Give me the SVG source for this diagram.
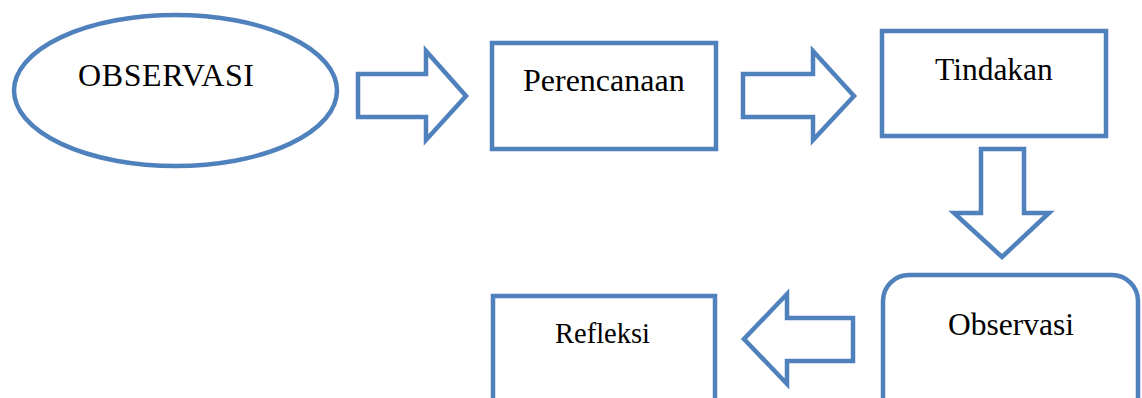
<svg xmlns="http://www.w3.org/2000/svg" width="1142" height="398" viewBox="0 0 1142 398">
<style>
.s{fill:#fff;stroke:#4F81BD;stroke-width:4.5;stroke-linejoin:miter}
.t{font-family:"Liberation Serif","Times New Roman",serif;fill:#000}
</style>
<rect width="1142" height="398" fill="#fff"/>
<g id="connectors">
<path class="s" d="M358,74 H426 V51 L466,96 L426,140 V117 H358 Z"/>
<path class="s" d="M743,74 H813 V51 L854,96 L813,140 V117 H743 Z"/>
<path class="s" d="M981,149 H1024 V213 H1049 L1002,257 L954,213 H981 Z"/>
<path class="s" d="M853,318 H787 V294 L744,339 L787,384 V361 H853 Z"/>
</g>
<g id="observasi-ellipse">
<ellipse class="s" cx="175.5" cy="90.5" rx="161.5" ry="75.5"/>
<text class="t" x="78" y="86" font-size="32" textLength="176">OBSERVASI</text>
</g>
<g id="perencanaan">
<rect class="s" x="492" y="43" width="224" height="106"/>
<text class="t" x="523" y="91" font-size="32">Perencanaan</text>
</g>
<g id="tindakan">
<rect class="s" x="882" y="31" width="224" height="105"/>
<text class="t" x="935" y="80" font-size="31.5">Tindakan</text>
</g>
<g id="observasi">
<rect class="s" x="883" y="275" width="255" height="160" rx="26"/>
<text class="t" x="948" y="335" font-size="31.5">Observasi</text>
</g>
<g id="refleksi">
<rect class="s" x="493" y="296" width="222" height="140"/>
<text class="t" x="555" y="343" font-size="28.5">Refleksi</text>
</g>
</svg>
